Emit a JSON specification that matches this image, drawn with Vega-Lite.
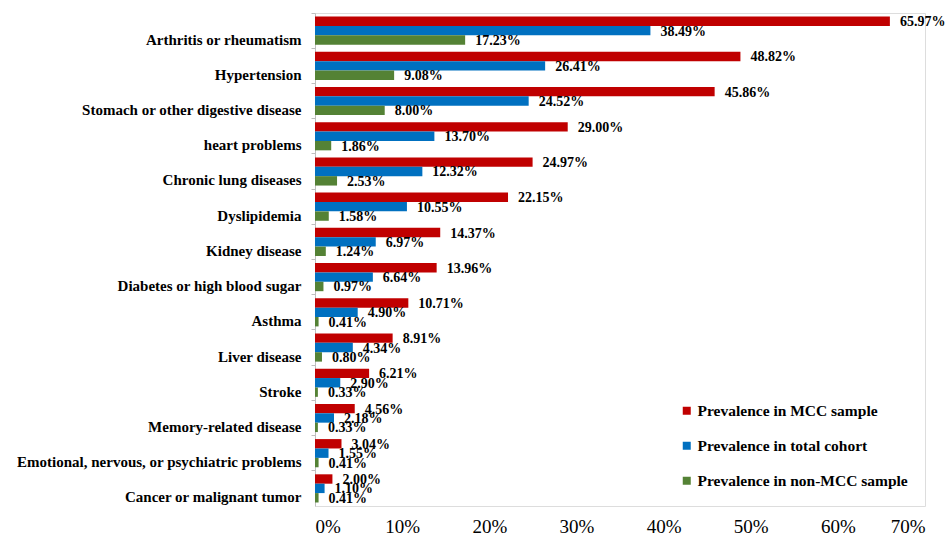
{
  "$schema": "https://vega.github.io/schema/vega-lite/v6.json",
  "width": 610,
  "height": 493,
  "autosize": {"type": "none"},
  "padding": {"left": 315, "top": 13, "right": 22, "bottom": 32},
  "background": "white",
  "data": {
    "values": [
      {"disease": "Arthritis or rheumatism", "group": "Prevalence in MCC sample", "prevalence": 0.6597},
      {"disease": "Arthritis or rheumatism", "group": "Prevalence in total cohort", "prevalence": 0.3849},
      {"disease": "Arthritis or rheumatism", "group": "Prevalence in non-MCC sample", "prevalence": 0.1723},
      {"disease": "Hypertension", "group": "Prevalence in MCC sample", "prevalence": 0.4882},
      {"disease": "Hypertension", "group": "Prevalence in total cohort", "prevalence": 0.2641},
      {"disease": "Hypertension", "group": "Prevalence in non-MCC sample", "prevalence": 0.0908},
      {"disease": "Stomach or other digestive disease", "group": "Prevalence in MCC sample", "prevalence": 0.4586},
      {"disease": "Stomach or other digestive disease", "group": "Prevalence in total cohort", "prevalence": 0.2452},
      {"disease": "Stomach or other digestive disease", "group": "Prevalence in non-MCC sample", "prevalence": 0.0800},
      {"disease": "heart problems", "group": "Prevalence in MCC sample", "prevalence": 0.2900},
      {"disease": "heart problems", "group": "Prevalence in total cohort", "prevalence": 0.1370},
      {"disease": "heart problems", "group": "Prevalence in non-MCC sample", "prevalence": 0.0186},
      {"disease": "Chronic lung diseases", "group": "Prevalence in MCC sample", "prevalence": 0.2497},
      {"disease": "Chronic lung diseases", "group": "Prevalence in total cohort", "prevalence": 0.1232},
      {"disease": "Chronic lung diseases", "group": "Prevalence in non-MCC sample", "prevalence": 0.0253},
      {"disease": "Dyslipidemia", "group": "Prevalence in MCC sample", "prevalence": 0.2215},
      {"disease": "Dyslipidemia", "group": "Prevalence in total cohort", "prevalence": 0.1055},
      {"disease": "Dyslipidemia", "group": "Prevalence in non-MCC sample", "prevalence": 0.0158},
      {"disease": "Kidney disease", "group": "Prevalence in MCC sample", "prevalence": 0.1437},
      {"disease": "Kidney disease", "group": "Prevalence in total cohort", "prevalence": 0.0697},
      {"disease": "Kidney disease", "group": "Prevalence in non-MCC sample", "prevalence": 0.0124},
      {"disease": "Diabetes or high blood sugar", "group": "Prevalence in MCC sample", "prevalence": 0.1396},
      {"disease": "Diabetes or high blood sugar", "group": "Prevalence in total cohort", "prevalence": 0.0664},
      {"disease": "Diabetes or high blood sugar", "group": "Prevalence in non-MCC sample", "prevalence": 0.0097},
      {"disease": "Asthma", "group": "Prevalence in MCC sample", "prevalence": 0.1071},
      {"disease": "Asthma", "group": "Prevalence in total cohort", "prevalence": 0.0490},
      {"disease": "Asthma", "group": "Prevalence in non-MCC sample", "prevalence": 0.0041},
      {"disease": "Liver disease", "group": "Prevalence in MCC sample", "prevalence": 0.0891},
      {"disease": "Liver disease", "group": "Prevalence in total cohort", "prevalence": 0.0434},
      {"disease": "Liver disease", "group": "Prevalence in non-MCC sample", "prevalence": 0.0080},
      {"disease": "Stroke", "group": "Prevalence in MCC sample", "prevalence": 0.0621},
      {"disease": "Stroke", "group": "Prevalence in total cohort", "prevalence": 0.0290},
      {"disease": "Stroke", "group": "Prevalence in non-MCC sample", "prevalence": 0.0033},
      {"disease": "Memory-related disease", "group": "Prevalence in MCC sample", "prevalence": 0.0456},
      {"disease": "Memory-related disease", "group": "Prevalence in total cohort", "prevalence": 0.0218},
      {"disease": "Memory-related disease", "group": "Prevalence in non-MCC sample", "prevalence": 0.0033},
      {"disease": "Emotional, nervous, or psychiatric problems", "group": "Prevalence in MCC sample", "prevalence": 0.0304},
      {"disease": "Emotional, nervous, or psychiatric problems", "group": "Prevalence in total cohort", "prevalence": 0.0155},
      {"disease": "Emotional, nervous, or psychiatric problems", "group": "Prevalence in non-MCC sample", "prevalence": 0.0041},
      {"disease": "Cancer or malignant tumor", "group": "Prevalence in MCC sample", "prevalence": 0.0200},
      {"disease": "Cancer or malignant tumor", "group": "Prevalence in total cohort", "prevalence": 0.0110},
      {"disease": "Cancer or malignant tumor", "group": "Prevalence in non-MCC sample", "prevalence": 0.0041}
    ]
  },
  "encoding": {
    "y": {
      "field": "disease",
      "type": "nominal",
      "sort": null,
      "scale": {"paddingInner": 0, "paddingOuter": 0},
      "axis": {
        "title": null,
        "bandPosition": 0,
        "labelOffset": 9,
        "labelFont": "Liberation Serif",
        "labelFontWeight": "bold",
        "labelFontSize": 15,
        "labelColor": "#000000",
        "labelPadding": 10,
        "labelLimit": 400,
        "domainColor": "#BFBFBF",
        "tickColor": "#BFBFBF",
        "tickSize": 4
      }
    },
    "yOffset": {
      "field": "group",
      "type": "nominal",
      "sort": ["Prevalence in MCC sample", "Prevalence in total cohort", "Prevalence in non-MCC sample"],
      "scale": {"paddingInner": 0, "paddingOuter": 0.375}
    },
    "x": {
      "field": "prevalence",
      "type": "quantitative",
      "scale": {"domain": [0, 0.7], "nice": false},
      "axis": {
        "title": null,
        "format": ".0%",
        "values": [0, 0.1, 0.2, 0.3, 0.4, 0.5, 0.6, 0.7],
        "domain": false,
        "ticks": false,
        "grid": false,
        "labelFont": "Liberation Serif",
        "labelFontSize": 19,
        "labelColor": "#000000",
        "labelPadding": 11
      }
    }
  },
  "layer": [
    {
      "mark": {"type": "bar"},
      "encoding": {
        "color": {
          "field": "group",
          "type": "nominal",
          "sort": ["Prevalence in MCC sample", "Prevalence in total cohort", "Prevalence in non-MCC sample"],
          "scale": {"range": ["#C00000", "#0070C0", "#548235"]},
          "legend": {
            "title": null,
            "orient": "none",
            "legendX": 364,
            "legendY": 390,
            "symbolType": "square",
            "symbolSize": 64,
            "symbolStrokeWidth": 0,
            "labelFont": "Liberation Serif",
            "labelFontWeight": "bold",
            "labelFontSize": 15.5,
            "labelColor": "#000000",
            "labelOffset": 3,
            "labelLimit": 300,
            "rowPadding": 18
          }
        }
      }
    },
    {
      "mark": {
        "type": "text",
        "align": "left",
        "baseline": "middle",
        "dx": 10,
        "dy": 1,
        "font": "Liberation Serif",
        "fontWeight": "bold",
        "fontSize": 14,
        "color": "#000000"
      },
      "encoding": {
        "text": {"field": "prevalence", "type": "quantitative", "format": ".2%"}
      }
    }
  ]
}
